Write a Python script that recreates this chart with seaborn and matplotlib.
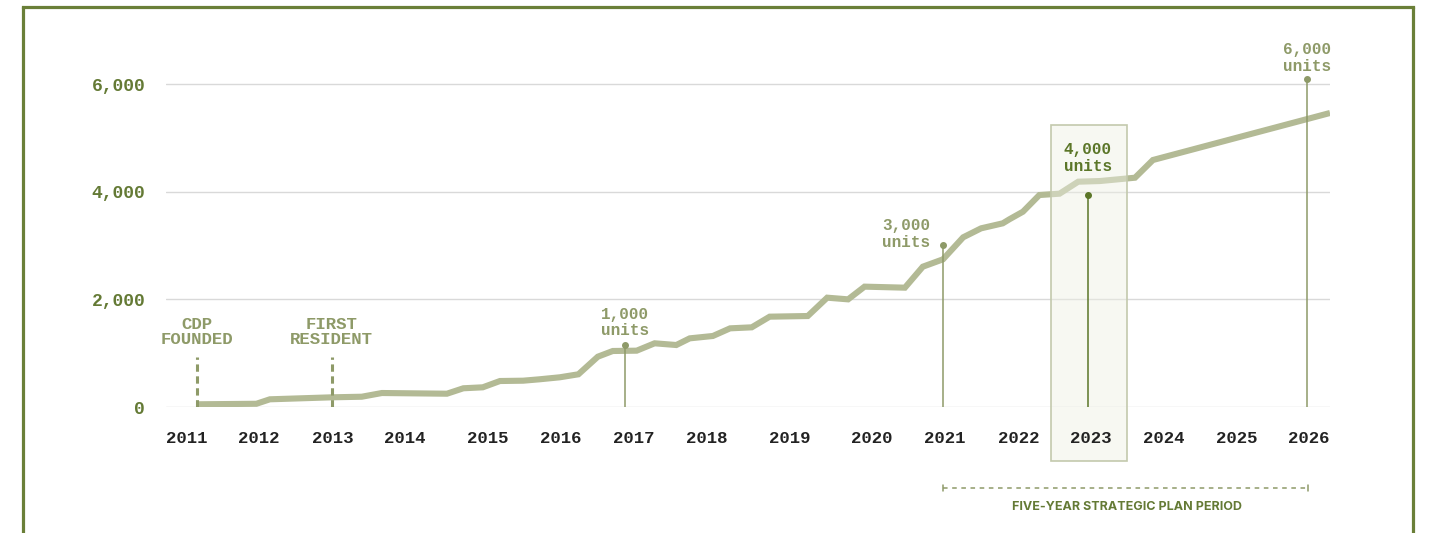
import matplotlib
matplotlib.use("Agg")
import matplotlib.pyplot as plt
import seaborn as sns
import pandas as pd
from matplotlib.patches import Rectangle
from matplotlib.lines import Line2D

# ---------------- data ----------------
years = [2011.13, 2011.93, 2012.11, 2012.94, 2013.34, 2013.61, 2014.48, 2014.70,
         2014.96, 2015.19, 2015.50, 2015.72, 2015.99, 2016.24, 2016.50, 2016.70,
         2017.02, 2017.26, 2017.55, 2017.73, 2018.04, 2018.27, 2018.56, 2018.80,
         2019.31, 2019.57, 2019.85, 2020.07, 2020.61, 2020.85, 2021.12, 2021.39,
         2021.63, 2021.92, 2022.01, 2022.19, 2022.41, 2022.68, 2022.93, 2023.22,
         2023.69, 2023.93, 2026.30]
units = [50, 60, 143, 180, 191, 260, 247, 348,
         366, 483, 489, 515, 552, 608, 935, 1041,
         1047, 1184, 1152, 1276, 1320, 1462, 1481, 1679,
         1691, 2032, 2001, 2237, 2218, 2608, 2745, 3154,
         3321, 3414, 3490, 3630, 3940, 3965, 4188, 4200,
         4262, 4591, 5465]

tick_pos = [2011.00, 2011.96, 2012.95, 2013.92, 2015.03, 2016.01, 2016.98, 2017.96,
            2019.07, 2020.17, 2021.14, 2022.13, 2023.10, 2024.07, 2025.05, 2026.01]
tick_labels = ["2011", "2012", "2013", "2014", "2015", "2016", "2017", "2018",
               "2019", "2020", "2021", "2022", "2023", "2024", "2025", "2026"]
y_ticks = [0, 2000, 4000, 6000]
y_tick_labels = ["0", "2,000", "4,000", "6,000"]

# milestone events (dashed markers)
event_x = [2011.13, 2012.94]
event_labels = ["CDP\nFOUNDED", "FIRST\nRESIDENT"]

# unit milestones (stems)
mile_x = [2016.87, 2021.12, 2023.06, 2025.99]
mile_dot = [1152, 3011, 3940, 6090]
mile_labels = ["1,000\nunits", "3,000\nunits", "4,000\nunits", "6,000\nunits"]

plan_start, plan_end = 2021.12, 2026.01
plan_label = "FIVE-YEAR STRATEGIC PLAN PERIOD"
highlight_x0, highlight_x1 = 2022.56, 2023.58

# ---------------- style ----------------
sns.set_style("white")
plt.rcParams['font.family'] = ['Liberation Mono', 'DejaVu Sans']

LINE = "#b3ba95"
OLIVE = "#647a35"
LIGHT = "#8e9a68"
DARK_GREEN = "#5b7628"
GRID = "#d9d9d9"

fig = plt.figure(figsize=(14.34, 5.33), dpi=100)
fig.patch.set_facecolor("white")
ax = fig.add_axes([166/1434, (533-407)/533, (1330-166)/1434, (407-30.4)/533])

df = pd.DataFrame({"year": years, "units": units})
sns.lineplot(data=df, x="year", y="units", ax=ax, color=LINE, linewidth=4.4,
             solid_joinstyle="miter", solid_capstyle="butt", zorder=3)

ax.set_xlim(2010.72, 2026.30)
ax.set_ylim(0, 7000)
for s in ax.spines.values():
    s.set_visible(False)

ax.set_yticks(y_ticks)
ax.set_yticklabels(y_tick_labels)
ax.set_xticks(tick_pos)
ax.set_xticklabels(tick_labels)
ax.tick_params(axis="y", length=0, pad=15, labelsize=13, labelcolor=OLIVE)
ax.tick_params(axis="x", length=0, pad=17, labelsize=12.5, labelcolor="#222222")
for lab in ax.get_yticklabels() + ax.get_xticklabels():
    lab.set_fontweight("bold")
ax.set_xlabel("")
ax.set_ylabel("")
ax.grid(axis="y", color=GRID, linewidth=1.0)
ax.grid(axis="x", visible=False)
ax.yaxis.set_zorder(1)
ax.xaxis.set_zorder(10)

# highlight box over 2023
ax.add_patch(Rectangle((highlight_x0, -1004), highlight_x1 - highlight_x0, 5242 + 1004,
                       facecolor="#eef0e4", alpha=0.45, edgecolor="none",
                       zorder=4, clip_on=False))
ax.add_patch(Rectangle((highlight_x0, -1004), highlight_x1 - highlight_x0, 5242 + 1004,
                       facecolor="none", edgecolor="#c3c9ad", linewidth=1.2,
                       zorder=4, clip_on=False))

# event dashed markers
for x, lab in zip(event_x, event_labels):
    ax.plot([x, x], [0, 930], color=LIGHT, linewidth=2.2, linestyle=(0, (2.4, 1.5)),
            zorder=5)
    ax.text(x, 1394, lab, ha="center", va="center", fontsize=12.5, fontweight="bold",
            color=LIGHT, linespacing=1.0)

# unit milestones
label_y = [1570, 3215, 4628, 6487]
label_x = [2016.87, 2020.63, 2023.06, 2025.99]
for i, (x, yd, lab) in enumerate(zip(mile_x, mile_dot, mile_labels)):
    col = DARK_GREEN if i == 2 else LIGHT
    ax.plot([x, x], [0, yd], color=col, linewidth=1.1, zorder=6)
    ax.plot([x], [yd], marker="o", markersize=4, color=col, zorder=6)
    ax.text(label_x[i], label_y[i], lab, ha="center", va="center", fontsize=11.5,
            fontweight="bold", color=col, linespacing=1.1, zorder=7, clip_on=False)

# plan period bracket
ax.plot([plan_start, plan_end], [-1506, -1506], color=LIGHT, linewidth=1.1,
        linestyle=(0, (3, 3)), clip_on=False, zorder=5)
for x in (plan_start, plan_end):
    ax.plot([x, x], [-1450, -1562], color=LIGHT, linewidth=1.1, clip_on=False, zorder=5)
ax.text((plan_start + plan_end) / 2 + 0.02, -1859, plan_label, ha="center", va="center",
        fontsize=9, fontweight="bold", color=OLIVE, family=["Inter", "DejaVu Sans"],
        clip_on=False)

# outer frame (left, top, right)
fc = "#6a7f38"
fig.add_artist(Line2D([23/1434, 23/1434], [0, 1 - 7/533], color=fc, linewidth=2.3,
                      transform=fig.transFigure))
fig.add_artist(Line2D([1413/1434, 1413/1434], [0, 1 - 7/533], color=fc, linewidth=2.3,
                      transform=fig.transFigure))
fig.add_artist(Line2D([23/1434, 1413/1434], [1 - 7/533, 1 - 7/533], color=fc, linewidth=2.3,
                      transform=fig.transFigure, solid_capstyle="projecting"))

fig.savefig("out.png", dpi=100)
